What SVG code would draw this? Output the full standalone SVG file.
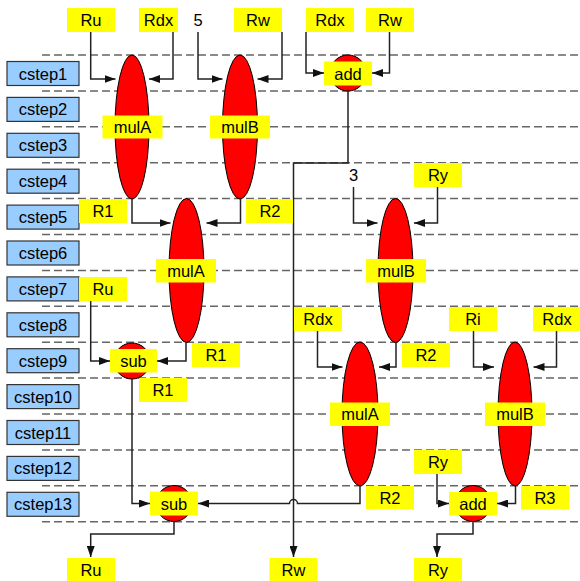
<svg xmlns="http://www.w3.org/2000/svg" width="580" height="581" viewBox="0 0 580 581">
<style>
text{font-family:"Liberation Sans",Arial,sans-serif;font-size:16.5px;fill:#000;text-anchor:middle}
.grid{stroke:#666;stroke-width:1.5;stroke-dasharray:8,4;fill:none}
.cs{fill:#99ccff;stroke:#333;stroke-width:1.2}
.op{fill:#ff0000;stroke:#000;stroke-width:1}
.lb{fill:#ffff00;stroke:none}
.cn{fill:none;stroke:#222;stroke-width:1.5;marker-end:url(#ah)}
</style>
<defs>
<marker id="ah" markerWidth="11" markerHeight="8" refX="11" refY="4" orient="auto" markerUnits="userSpaceOnUse"><path d="M0,0 L11,4 L0,8 z" fill="#111"/></marker>
</defs>
<rect width="580" height="581" fill="#fff"/>
<g id="grid">
<line class="grid" x1="42" y1="55" x2="580" y2="55"/>
<line class="grid" x1="42" y1="90.9" x2="580" y2="90.9"/>
<line class="grid" x1="42" y1="126.8" x2="580" y2="126.8"/>
<line class="grid" x1="42" y1="162.7" x2="580" y2="162.7"/>
<line class="grid" x1="42" y1="198.6" x2="580" y2="198.6"/>
<line class="grid" x1="42" y1="234.5" x2="580" y2="234.5"/>
<line class="grid" x1="42" y1="270.4" x2="580" y2="270.4"/>
<line class="grid" x1="42" y1="306.3" x2="580" y2="306.3"/>
<line class="grid" x1="42" y1="342.2" x2="580" y2="342.2"/>
<line class="grid" x1="42" y1="378.1" x2="580" y2="378.1"/>
<line class="grid" x1="42" y1="414" x2="580" y2="414"/>
<line class="grid" x1="42" y1="449.9" x2="580" y2="449.9"/>
<line class="grid" x1="42" y1="485.8" x2="580" y2="485.8"/>
<line class="grid" x1="42" y1="521.7" x2="580" y2="521.7"/>
</g>
<g id="csteps">
<g id="cstep1"><rect class="cs" x="7" y="61.5" width="72" height="24"/><text x="43" y="79.5">cstep1</text></g>
<g id="cstep2"><rect class="cs" x="7" y="97.4" width="72" height="24"/><text x="43" y="115.4">cstep2</text></g>
<g id="cstep3"><rect class="cs" x="7" y="133.3" width="72" height="24"/><text x="43" y="151.3">cstep3</text></g>
<g id="cstep4"><rect class="cs" x="7" y="169.2" width="72" height="24"/><text x="43" y="187.2">cstep4</text></g>
<g id="cstep5"><rect class="cs" x="7" y="205.1" width="72" height="24"/><text x="43" y="223.1">cstep5</text></g>
<g id="cstep6"><rect class="cs" x="7" y="241" width="72" height="24"/><text x="43" y="259">cstep6</text></g>
<g id="cstep7"><rect class="cs" x="7" y="276.9" width="72" height="24"/><text x="43" y="294.9">cstep7</text></g>
<g id="cstep8"><rect class="cs" x="7" y="312.8" width="72" height="24"/><text x="43" y="330.8">cstep8</text></g>
<g id="cstep9"><rect class="cs" x="7" y="348.7" width="72" height="24"/><text x="43" y="366.7">cstep9</text></g>
<g id="cstep10"><rect class="cs" x="7" y="384.6" width="72" height="24"/><text x="43" y="402.6">cstep10</text></g>
<g id="cstep11"><rect class="cs" x="7" y="420.5" width="72" height="24"/><text x="43" y="438.5">cstep11</text></g>
<g id="cstep12"><rect class="cs" x="7" y="456.4" width="72" height="24"/><text x="43" y="474.4">cstep12</text></g>
<g id="cstep13"><rect class="cs" x="7" y="492.3" width="72" height="24"/><text x="43" y="510.3">cstep13</text></g>
</g>
<g id="mulA1"><ellipse class="op" cx="132" cy="127" rx="17" ry="72"/><rect class="lb" x="102.5" y="115.5" width="60" height="23"/><text x="132.5" y="133">mulA</text></g>
<g id="mulB1"><ellipse class="op" cx="240" cy="127" rx="17.5" ry="72"/><rect class="lb" x="210" y="115.5" width="60" height="23"/><text x="240" y="133">mulB</text></g>
<g id="add1"><circle class="op" cx="348" cy="73" r="18"/><rect class="lb" x="324" y="61.5" width="48" height="24"/><text x="348" y="79.5">add</text></g>
<g id="mulA2"><ellipse class="op" cx="186.5" cy="270.5" rx="17.5" ry="72"/><rect class="lb" x="156" y="259" width="60" height="23.5"/><text x="186" y="277">mulA</text></g>
<g id="mulB2"><ellipse class="op" cx="395.5" cy="270.5" rx="17.5" ry="72"/><rect class="lb" x="366" y="259" width="60" height="23.5"/><text x="396" y="277">mulB</text></g>
<g id="sub1"><circle class="op" cx="132" cy="361" r="18"/><rect class="lb" x="110" y="349" width="47" height="23.5"/><text x="133.5" y="367">sub</text></g>
<g id="mulA3"><ellipse class="op" cx="360" cy="414" rx="18" ry="72"/><rect class="lb" x="330" y="402.5" width="60" height="23.5"/><text x="360" y="420">mulA</text></g>
<g id="mulB3"><ellipse class="op" cx="515" cy="414" rx="17" ry="72"/><rect class="lb" x="485" y="402.5" width="60" height="23.5"/><text x="515" y="420">mulB</text></g>
<g id="sub2"><circle class="op" cx="174" cy="503.5" r="18"/><rect class="lb" x="150" y="491.5" width="48" height="24"/><text x="174" y="509.5">sub</text></g>
<g id="add2"><circle class="op" cx="473" cy="503.5" r="18"/><rect class="lb" x="449" y="492" width="48" height="23.5"/><text x="473" y="509.5">add</text></g>
<g id="connectors">
<path class="cn" d="M90.7,32 V79 H115.5"/>
<path class="cn" d="M173,32 V79 H149"/>
<path class="cn" d="M198,32 V79 H222.5"/>
<path class="cn" d="M282,32 V79 H257.5"/>
<path class="cn" d="M306,32 V73 H324"/>
<path class="cn" d="M389.5,32 V73 H372"/>
<path class="cn" d="M348,91 V163 H293.5 V557"/>
<path class="cn" d="M132,199 V223 H170.5"/>
<path class="cn" d="M240.5,199 V223 H206.5"/>
<path class="cn" d="M353.5,187 V223 H377.5"/>
<path class="cn" d="M437.5,187 V223 H414"/>
<path class="cn" d="M90.7,301 V361 H110"/>
<path class="cn" d="M186,342.5 V361 H157"/>
<path class="cn" d="M317.5,331 V367 H342.5"/>
<path class="cn" d="M396,342.5 V367 H379"/>
<path class="cn" d="M473.5,331 V367 H494"/>
<path class="cn" d="M556.5,331 V367 H533.5"/>
<path class="cn" d="M132,379 V503.5 H150"/>
<path class="cn" d="M360,486 V503.5 H297.5 a4,4 0 0 0 -8,0 H198"/>
<path class="cn" d="M437,474 V503.5 H449"/>
<path class="cn" d="M515.5,486 V503.5 H497"/>
<path class="cn" d="M174,521.5 V534 H90.7 V557"/>
<path class="cn" d="M473,521.5 V534 H437 V557"/>
</g>
<g id="Ru_top"><rect class="lb" x="67" y="8" width="48" height="24"/><text x="91" y="26">Ru</text></g>
<g id="Rdx_top1"><rect class="lb" x="139" y="8" width="39" height="24"/><text x="158.5" y="26">Rdx</text></g>
<g id="c5"><text x="198" y="26">5</text></g>
<g id="Rw_top1"><rect class="lb" x="234" y="8" width="48" height="24"/><text x="258" y="26">Rw</text></g>
<g id="Rdx_top2"><rect class="lb" x="306" y="8" width="48" height="24"/><text x="330" y="26">Rdx</text></g>
<g id="Rw_top2"><rect class="lb" x="366" y="8" width="48" height="24"/><text x="390" y="26">Rw</text></g>
<g id="c3"><text x="353.5" y="181">3</text></g>
<g id="Ry_top"><rect class="lb" x="414" y="163" width="48" height="24"/><text x="438" y="181">Ry</text></g>
<g id="R1_a"><rect class="lb" x="79" y="199" width="48" height="24"/><text x="103" y="217">R1</text></g>
<g id="R2_a"><rect class="lb" x="246" y="199" width="47" height="24"/><text x="270" y="217">R2</text></g>
<g id="Ru_mid"><rect class="lb" x="79" y="277" width="48" height="24"/><text x="103" y="295">Ru</text></g>
<g id="Rdx_mid"><rect class="lb" x="294" y="307" width="48" height="24"/><text x="318" y="325">Rdx</text></g>
<g id="Ri"><rect class="lb" x="449" y="307" width="48" height="24"/><text x="473" y="325">Ri</text></g>
<g id="Rdx_right"><rect class="lb" x="533" y="307" width="47" height="24"/><text x="557" y="325">Rdx</text></g>
<g id="R1_b"><rect class="lb" x="192" y="343" width="48" height="24"/><text x="216" y="361">R1</text></g>
<g id="R2_b"><rect class="lb" x="402" y="343" width="48" height="24"/><text x="426" y="361">R2</text></g>
<g id="R1_c"><rect class="lb" x="139" y="378" width="48" height="24"/><text x="163" y="396">R1</text></g>
<g id="Ry_mid"><rect class="lb" x="414" y="450" width="48" height="24"/><text x="438" y="468">Ry</text></g>
<g id="R2_c"><rect class="lb" x="366" y="486" width="48" height="23.5"/><text x="390" y="504">R2</text></g>
<g id="R3"><rect class="lb" x="521" y="486" width="48" height="23.5"/><text x="545" y="504">R3</text></g>
<g id="Ru_bot"><rect class="lb" x="67" y="558" width="48" height="23"/><text x="91" y="575.5">Ru</text></g>
<g id="Rw_bot"><rect class="lb" x="269.5" y="558" width="48" height="23"/><text x="293.5" y="575.5">Rw</text></g>
<g id="Ry_bot"><rect class="lb" x="414" y="558" width="48" height="23"/><text x="438" y="575.5">Ry</text></g>
</svg>
